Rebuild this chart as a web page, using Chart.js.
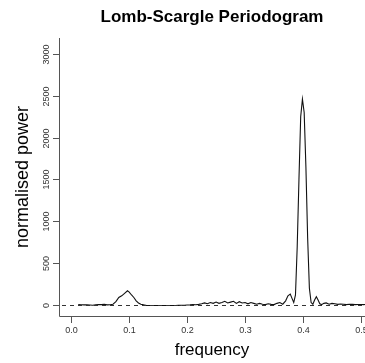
<!DOCTYPE html>
<html><head><meta charset="utf-8">
<script src="https://cdn.jsdelivr.net/npm/chart.js@4"></script>
<style>html,body{margin:0;padding:0;background:#fff;overflow:hidden;width:365px;height:363px}canvas{display:block}</style>
</head><body>
<canvas id="c" width="365" height="363"></canvas>
<script>
const titleText = "Lomb-Scargle Periodogram";
const xTitle = "frequency";
const yTitle = "normalised power";
const xTicks = [0.0, 0.1, 0.2, 0.3, 0.4, 0.5];
const xTickLabels = ["0.0","0.1","0.2","0.3","0.4","0.5"];
const yTicks = [0, 500, 1000, 1500, 2000, 2500, 3000];
const yTickLabels = ["0","500","1000","1500","2000","2500","3000"];
const freq = [0.012,0.017,0.022,0.027,0.032,0.037,0.042,0.047,0.052,0.057,0.062,0.067,0.072,0.077,0.082,0.087,0.092,0.097,0.100,0.104,0.108,0.112,0.116,0.120,0.125,0.130,0.135,0.140,0.145,0.150,0.155,0.160,0.165,0.170,0.175,0.180,0.185,0.190,0.195,0.200,0.205,0.210,0.215,0.220,0.225,0.230,0.235,0.240,0.245,0.250,0.255,0.260,0.265,0.270,0.275,0.280,0.285,0.290,0.295,0.300,0.305,0.310,0.315,0.320,0.325,0.330,0.335,0.340,0.345,0.350,0.355,0.360,0.365,0.370,0.374,0.378,0.381,0.384,0.387,0.390,0.393,0.396,0.399,0.402,0.405,0.408,0.411,0.414,0.417,0.420,0.423,0.426,0.429,0.432,0.436,0.440,0.445,0.450,0.455,0.460,0.465,0.470,0.475,0.480,0.485,0.490,0.495,0.500,0.505,0.510];
const power = [5,3,2,4,1,-3,2,6,5,8,2,4,10,40,90,110,140,170,155,120,90,50,25,10,2,-5,-6,-5,-5,-6,-6,-5,-6,-5,-6,-5,-4,-3,-2,0,2,5,3,8,15,25,15,30,20,35,20,30,45,25,35,45,20,40,25,30,15,30,20,10,20,10,5,15,8,5,20,30,10,50,110,130,80,30,120,700,1500,2250,2460,2300,1650,800,200,30,10,60,100,60,15,5,20,25,10,20,15,8,12,10,5,10,8,5,7,6,5,7];
const xMin = -0.0212, xMax = 0.507, yMin = -131, yMax = 3190;

const decor = {
  id: 'decor',
  afterDraw(chart) {
    const ctx = chart.ctx, xs = chart.scales.x, ys = chart.scales.y, a = chart.chartArea;
    ctx.save();
    ctx.strokeStyle = '#333'; ctx.lineWidth = 1; ctx.setLineDash([4,4]);
    const y0 = Math.round(ys.getPixelForValue(0)) + 0.5;
    ctx.beginPath(); ctx.moveTo(a.left + 3, y0); ctx.lineTo(a.right, y0); ctx.stroke();
    ctx.setLineDash([]);
    ctx.strokeStyle = '#555';
    ctx.beginPath();
    ctx.moveTo(a.left + 0.5, a.top); ctx.lineTo(a.left + 0.5, a.bottom + 0.5); ctx.lineTo(a.right, a.bottom + 0.5);
    ctx.stroke();
    ctx.fillStyle = '#333'; ctx.font = '9px "Liberation Sans", Arial, sans-serif';
    yTicks.forEach((v, i) => {
      const p = Math.round(ys.getPixelForValue(v)) + 0.5;
      ctx.beginPath(); ctx.moveTo(a.left - 6, p); ctx.lineTo(a.left, p); ctx.stroke();
      ctx.save(); ctx.translate(47, p); ctx.rotate(-Math.PI / 2);
      ctx.textAlign = 'center'; ctx.textBaseline = 'middle';
      ctx.fillText(yTickLabels[i], 0, 0); ctx.restore();
    });
    xTicks.forEach((v, i) => {
      const p = Math.round(xs.getPixelForValue(v)) + 0.5;
      ctx.beginPath(); ctx.moveTo(p, a.bottom); ctx.lineTo(p, a.bottom + 7); ctx.stroke();
      ctx.textAlign = 'center'; ctx.textBaseline = 'middle';
      ctx.fillText(xTickLabels[i], p, 331);
    });
    ctx.fillStyle = '#000';
    ctx.font = 'bold 17px "Liberation Sans", Arial, sans-serif';
    ctx.textAlign = 'center'; ctx.textBaseline = 'middle';
    ctx.fillText(titleText, (a.left + a.right) / 2, 17);
    ctx.font = '17px "Liberation Sans", Arial, sans-serif';
    ctx.fillText(xTitle, (a.left + a.right) / 2, 350);
    ctx.font = '18px "Liberation Sans", Arial, sans-serif';
    ctx.save(); ctx.translate(23, (a.top + a.bottom) / 2); ctx.rotate(-Math.PI / 2);
    ctx.fillText(yTitle, 0, 0); ctx.restore();
    ctx.restore();
  }
};

new Chart(document.getElementById('c'), {
  type: 'scatter',
  data: { datasets: [{ data: freq.map((f, i) => ({x: f, y: power[i]})), showLine: true, borderColor: '#111', borderWidth: 1.1, pointRadius: 0, tension: 0 }] },
  options: {
    responsive: false, animation: false, devicePixelRatio: 1,
    layout: { padding: { left: 59, right: 0, top: 38, bottom: 47 } },
    plugins: { legend: { display: false }, tooltip: { enabled: false } },
    scales: {
      x: { type: 'linear', min: xMin, max: xMax, display: false },
      y: { type: 'linear', min: yMin, max: yMax, display: false }
    }
  },
  plugins: [decor]
});
</script>
</body></html>
